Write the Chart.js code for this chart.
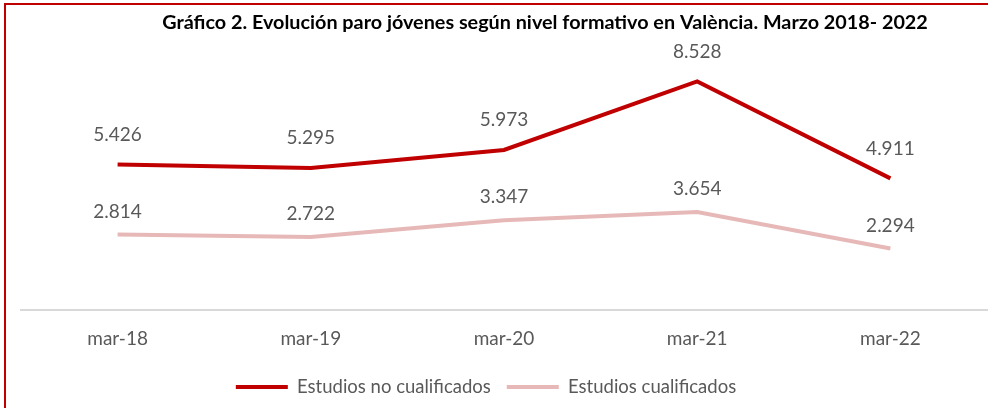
<!DOCTYPE html>
<html>
<head>
<meta charset="utf-8">
<script src="https://cdn.jsdelivr.net/npm/chart.js@4.4.1/dist/chart.umd.min.js"></script>
<style>
  html, body { margin: 0; padding: 0; background: #fff; overflow: hidden; }
  #wrap { position: relative; width: 988px; height: 408px; }
  #frame { position: absolute; left: 4px; top: 3px; width: 1000px; height: 420px; border: 2px solid #C00000; box-sizing: border-box; }
  canvas { position: absolute; left: 0; top: 0; }
</style>
</head>
<body>
<div id="wrap">
  <div id="frame"></div>
  <canvas id="lineChart" width="988" height="408"></canvas>
</div>
<script>
var titulo = "Gráfico 2. Evolución paro jóvenes según nivel formativo en València. Marzo 2018- 2022";
var meses = ["mar-18", "mar-19", "mar-20", "mar-21", "mar-22"];
var noCualificados = [5426, 5295, 5973, 8528, 4911];
var cualificados = [2814, 2722, 3347, 3654, 2294];

var fmt = function (v) {
    return (v / 1000).toFixed(3);
};

// labels over the points, like the Excel data labels
var valueLabels = {
    id: 'valueLabels',
    afterDatasetsDraw: function (chart, args, opts) {
        var ctx = chart.ctx;
        ctx.save();
        ctx.font = '19px Lato';
        ctx.fillStyle = '#595959';
        ctx.textAlign = 'center';
        ctx.textBaseline = 'middle';
        chart.data.datasets.forEach(function (ds, i) {
            var meta = chart.getDatasetMeta(i);
            var off = opts.offsets[i];
            meta.data.forEach(function (pt, j) {
                ctx.fillText(fmt(ds.data[j]), pt.x, pt.y - off);
            });
        });
        ctx.restore();
    }
};

var chartTitle = {
    id: 'chartTitle',
    afterDraw: function (chart, args, opts) {
        var ctx = chart.ctx;
        ctx.save();
        ctx.font = 'bold 19.8px Lato';
        ctx.fillStyle = '#000';
        ctx.textAlign = 'center';
        ctx.textBaseline = 'middle';
        ctx.fillText(opts.text, opts.x, opts.y);
        ctx.restore();
    }
};

// the legend in the original sits a bit left of the plot centre
var legendShift = {
    id: 'legendShift',
    afterLayout: function (chart, args, opts) {
        chart.legend.left -= opts.dx;
    }
};

var ctx = document.getElementById("lineChart").getContext('2d');
new Chart(ctx, {
    type: 'line',
    data: {
        labels: meses,
        datasets: [
            {
                label: "Estudios no cualificados",
                data: noCualificados,
                borderColor: "#C00000",
                backgroundColor: "#C00000",
                borderWidth: 4,
                pointRadius: 0,
                tension: 0
            },
            {
                label: "Estudios cualificados",
                data: cualificados,
                borderColor: "#E6B9B8",
                backgroundColor: "#E6B9B8",
                borderWidth: 4,
                pointRadius: 0,
                tension: 0
            }
        ]
    },
    options: {
        responsive: false,
        animation: false,
        layout: {
            padding: { top: 42, left: 21, right: 1, bottom: 1.75 }
        },
        scales: {
            x: {
                offset: true,
                grid: { display: false, drawTicks: false },
                border: { display: true, color: '#D9D9D9', width: 2 },
                ticks: {
                    color: '#595959',
                    font: { family: 'Lato', size: 19 },
                    padding: 17
                },
                afterFit: function (scale) {
                    scale.height = 51.75;
                }
            },
            y: {
                display: false,
                min: 0,
                max: 10000
            }
        },
        plugins: {
            legend: {
                position: 'bottom',
                labels: {
                    color: '#595959',
                    font: { family: 'Lato', size: 18.5 },
                    boxWidth: 52,
                    boxHeight: 4,
                    padding: 16,
                    generateLabels: function (chart) {
                        var items = Chart.defaults.plugins.legend.labels.generateLabels(chart);
                        items.forEach(function (it) { it.lineWidth = 0; });
                        return items;
                    }
                }
            },
            tooltip: { enabled: false },
            valueLabels: { offsets: [30, 23] },
            chartTitle: { text: titulo, x: 545, y: 23 },
            legendShift: { dx: 36 }
        }
    },
    plugins: [valueLabels, chartTitle, legendShift]
});
</script>
</body>
</html>
